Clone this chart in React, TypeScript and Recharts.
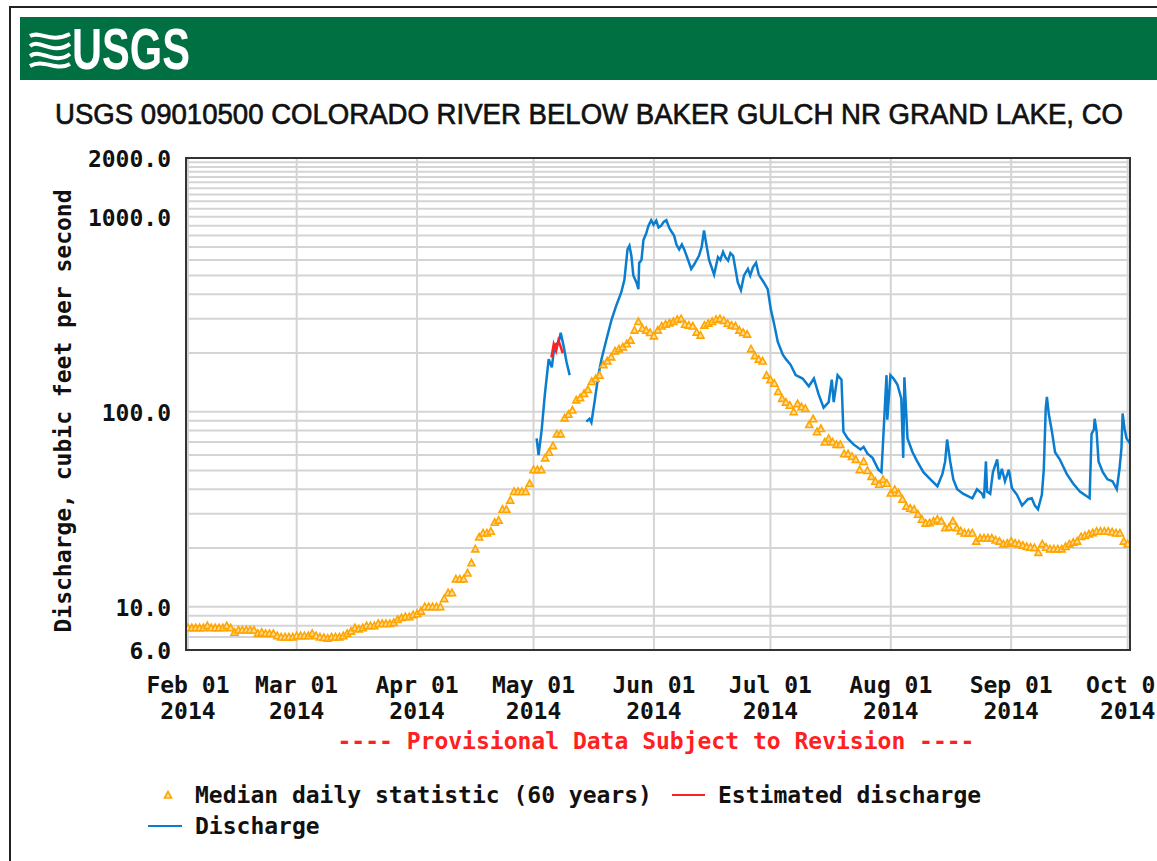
import React from 'react';
import { ComposedChart, Line, Scatter, XAxis, YAxis, CartesianGrid } from 'recharts';

// days counted from Feb 01 2014
const monthDays = [0, 28, 59, 89, 120, 150, 181, 212, 242];
const monthLabels = ['Feb 01', 'Mar 01', 'Apr 01', 'May 01', 'Jun 01', 'Jul 01', 'Aug 01', 'Sep 01', 'Oct 01'];
const yearLabel = '2014';

const yTicks = [
  6, 7, 8, 9, 10, 20, 30, 40, 50, 60, 70, 80, 90, 100, 200, 300, 400, 500, 600, 700, 800, 900,
  1000, 1100, 1200, 1300, 1400, 1500, 1600, 1700, 1800, 1900, 2000,
];
const yLabelled = [6, 10, 100, 1000, 2000];

// median daily statistic, one value per day from Feb 01
const medianDaily = [
  7.8, 7.8, 7.8, 7.8, 7.8, 8.0, 7.8, 7.8, 7.8, 7.8,
  8.0, 7.8, 7.4, 7.6, 7.6, 7.6, 7.6, 7.6, 7.3, 7.4,
  7.3, 7.3, 7.3, 7.1, 7.0, 7.0, 7.0, 7.0, 7.1, 7.1,
  7.1, 7.1, 7.3, 7.1, 7.0, 6.95, 6.9, 7.0, 7.0, 7.0,
  7.1, 7.3, 7.5, 7.8, 7.7, 7.8, 8.0, 8.0, 8.0, 8.2,
  8.2, 8.2, 8.2, 8.3, 8.6, 8.8, 8.9, 8.9, 9.1, 9.2,
  9.5, 10.0, 10.0, 10.0, 10.0, 10.0, 11.0, 11.8, 11.8, 13.9,
  13.9, 13.9, 14.9, 16.8, 19.8, 22.8, 23.9, 23.9, 24.4, 27.1,
  27.8, 31.6, 31.6, 35.2, 39.0, 39.0, 39.0, 39.0, 42.9, 50.5,
  50.5, 50.5, 58, 62, 67, 77, 77, 93, 97, 102,
  115, 118, 124, 130, 143, 148, 154, 174, 182, 191,
  205, 210, 215, 223, 233, 262, 290, 268, 262, 255,
  245, 262, 275, 281, 285, 290, 297, 300, 281, 278,
  275, 256, 247, 278, 284, 290, 297, 300, 294, 284,
  278, 275, 262, 255, 250, 210, 194, 186, 182, 154,
  146, 140, 127, 117, 112, 108, 100, 110, 106, 104,
  86, 92, 79, 82, 70, 73, 70, 68, 68, 61,
  61, 59, 57, 50.5, 55.6, 50, 46.6, 44, 42.5, 45,
  43, 38.3, 40, 38.3, 35.6, 32.8, 32, 31.6, 29.8, 28.1,
  26.8, 27, 27.5, 28.1, 27.5, 25.4, 25.6, 27.5, 25.4, 24.5,
  23.9, 23.9, 23.9, 21.7, 22.5, 22.5, 22.5, 22.5, 22, 21.7,
  21.0, 21.2, 21.7, 21.2, 21.0, 20.7, 20.4, 20.2, 20.1, 19.0,
  21.0, 20.2, 19.8, 19.8, 19.8, 19.8, 20.4, 21.0, 21.4, 21.7,
  22.9, 23.2, 23.6, 24.0, 24.4, 24.4, 24.4, 24.4, 24.2, 23.9,
  23.9, 21.7, 21.0,
];

// discharge (null = gap in record)
const dischargeDays = [
  89.8, 90.3, 91.1, 91.9, 92.9, 93.7, 94.4, 95.5, 96.0, 96.7, 97.5, 98.3,
  100,
  102.6, 103.4, 103.9, 104.7, 105.7, 106.5, 107.8, 109.1, 110.3, 111.6, 112.4, 113.2, 113.7,
  114.2, 114.7, 115.5, 116.0, 116.2, 116.8, 117.3, 118.0, 118.6, 119.3, 119.9, 120.6, 121.2, 121.9, 122.5, 123.2,
  123.9, 124.5, 125.2, 125.8, 126.5, 127.2, 127.8, 128.8, 129.6, 130.4, 131.0, 131.6, 132.3, 132.9, 133.4, 134.2, 135.5, 136.0, 136.5,
  137.1, 137.8, 138.4, 139.1, 139.7, 140.4, 141.6, 142.4, 143.2, 144.2, 144.8, 145.5, 146.3, 147.0, 148.3, 149.3, 150.1,
  150.9, 151.9, 153.2, 154.0, 155.2, 156.5, 158.3, 159.9, 161.2, 162.4, 163.7, 165.0, 165.8,
  166.3, 167.3, 168.3, 168.8, 169.9, 171.4, 173.2, 174.0, 175.0, 176.3, 177.8, 178.6, 179.1,
  179.6, 179.9, 180.1, 180.9, 181.7, 182.7, 183.7, 184.2, 184.5, 185.3, 186.6, 187.8, 189.4,
  191.2, 193.0, 194.3, 195.0, 195.5, 196.3, 197.1, 198.1, 199.6, 202.0, 203.2, 204.5, 205.0,
  205.5, 205.8, 206.6, 207.3, 208.4, 208.9, 209.6, 210.4, 211.4, 212.2, 213.5, 214.8, 216.3,
  217.3, 218.1, 218.9, 219.9, 220.4, 220.9, 221.2, 221.7, 222.5, 223.3, 224.5, 226.3, 227.9,
  229.7, 230.9, 232.2, 232.7, 233.3, 233.5, 234.0, 234.5, 235.6, 236.8, 238.1, 239.2, 239.9,
  240.4, 240.7, 241.2, 241.7, 242.5,
];
const dischargeCfs = [
  73, 60, 81, 122, 186, 169, 219, 228, 254, 219, 180, 154,
  null,
  89, 92, 88, 112, 154, 186, 236, 297, 350, 410, 475, 680, 710,
  630, 500, 460, 425, 580, 600, 760, 820, 900, 960, 910, 955, 880, 900, 940, 960,
  880, 840, 800, 720, 680, 720, 680, 600, 540, 570, 600, 630, 700, 850, 740, 600, 505, 560, 620,
  600, 660, 620, 595, 650, 630, 460, 420, 500, 540, 500, 550, 580, 505, 460, 425, 335,
  285, 228, 196, 186, 174, 154, 148, 135, 148, 123, 105, 112, 146,
  112, 154, 146, 79, 73, 68, 64, 66, 61, 58, 50.5, 49, 76,
  119, 154, 91, 154, 148, 138, 117, 58, 150, 73, 62, 55.6, 49,
  45, 41.5, 48, 55.6, 72, 55.6, 45, 40, 38, 36, 40, 38, 36,
  55.6, 39, 38, 49, 57, 45, 51, 44, 50.5, 40.5, 37.5, 33, 35.6,
  36, 33, 31.6, 37.5, 50.5, 104, 119, 97, 79, 62, 57, 48, 43,
  39, 37.5, 36, 77, 81, 92, 79, 55.6, 49, 45, 44, 40, 51,
  65, 98, 82, 73, 69,
];

// estimated discharge
const estimatedDays = [93.6, 94.2, 94.8, 95.4, 96.0, 96.5];
const estimatedCfs = [190, 222, 205, 232, 215, 200];

const medianData = medianDaily.map((v, i) => ({ day: i, v }));
const dischargeData = dischargeDays.map((d, i) => ({ day: d, v: dischargeCfs[i] }));
const estimatedData = estimatedDays.map((d, i) => ({ day: d, v: estimatedCfs[i] }));

const MONO = '"DejaVu Sans Mono", monospace';
const ORANGE = '#ffa500';
const BLUE = '#0a7dcf';
const RED = '#ff2020';

const Triangle = (props: any) => {
  const { cx, cy } = props;
  if (cx == null || cy == null) return null;
  return (
    <polygon
      points={`${cx - 3.5},${cy + 3} ${cx},${cy - 3.5} ${cx + 3.5},${cy + 3}`}
      fill="#ffdb99"
      stroke={ORANGE}
      strokeWidth={1.6}
    />
  );
};

const XTick = (props: any) => {
  const { x, y, index } = props;
  return (
    <g>
      <text x={x} y={y + 27} textAnchor="middle" dominantBaseline="central" fontFamily={MONO} fontWeight="bold" fontSize={23} fill="#111">
        {monthLabels[index]}
      </text>
      <text x={x} y={y + 53} textAnchor="middle" dominantBaseline="central" fontFamily={MONO} fontWeight="bold" fontSize={23} fill="#111">
        {yearLabel}
      </text>
    </g>
  );
};

const YTick = (props: any) => {
  const { y, payload } = props;
  if (!yLabelled.includes(payload.value)) return null;
  return (
    <text x={171} y={y + 1} textAnchor="end" dominantBaseline="central" fontFamily={MONO} fontWeight="bold" fontSize={23} fill="#111">
      {payload.value.toFixed(1)}
    </text>
  );
};

export default function App() {
  return (
    <div style={{ position: 'absolute', left: 0, top: 0, width: 1157, height: 861, background: '#fff', overflow: 'hidden' }}>
      <ComposedChart
        width={1157}
        height={861}
        margin={{ top: 158, right: 27, bottom: 151, left: 86 }}
        style={{ position: 'absolute', left: 0, top: 0 }}
      >
        <CartesianGrid stroke="#d4d4d4" strokeWidth={2} />
        <XAxis
          type="number"
          dataKey="day"
          domain={[-0.5, 242.6]}
          allowDataOverflow
          ticks={monthDays}
          interval={0}
          tickLine={false}
          axisLine={false}
          height={60}
          tick={<XTick />}
        />
        <YAxis
          type="number"
          scale="log"
          domain={[6, 2000]}
          allowDataOverflow
          ticks={yTicks}
          interval={0}
          tickLine={false}
          axisLine={false}
          width={100}
          tick={<YTick />}
        />
        <Scatter data={medianData} dataKey="v" shape={<Triangle />} isAnimationActive={false} />
        <Line
          data={dischargeData}
          dataKey="v"
          type="linear"
          stroke={BLUE}
          strokeWidth={2.5}
          dot={false}
          connectNulls={false}
          isAnimationActive={false}
        />
        <Line
          data={estimatedData}
          dataKey="v"
          type="linear"
          stroke={RED}
          strokeWidth={2.5}
          dot={false}
          isAnimationActive={false}
        />
      </ComposedChart>

      <svg width={1157} height={861} style={{ position: 'absolute', left: 0, top: 0, pointerEvents: 'none' }}>
        {/* page frame */}
        <rect x={10} y={7} width={1160} height={870} fill="none" stroke="#222" strokeWidth={2} />
        {/* header bar */}
        <rect x={20} y={17} width={1150} height={63} fill="#006f41" />
        <g stroke="#fff" strokeWidth={4} fill="none">
          <path d="M30 36 C40 30, 50 44, 70 34" />
          <path d="M30 46 C40 38, 52 56, 70 44" />
          <path d="M30 56 C42 48, 54 66, 70 54" />
          <path d="M30 66 C44 58, 56 72, 70 64" />
        </g>
        <text x={72} y={69} fontFamily='"Liberation Sans Narrow", "Liberation Sans", Arial, sans-serif' fontWeight="bold" fontSize={58} fill="#fff" textLength={118} lengthAdjust="spacingAndGlyphs">
          USGS
        </text>
        {/* title */}
        <text x={55} y={124} fontFamily='"Liberation Sans", Arial, sans-serif' fontSize={30} fill="#111" stroke="#111" strokeWidth={0.7} textLength={1068} lengthAdjust="spacingAndGlyphs">
          USGS 09010500 COLORADO RIVER BELOW BAKER GULCH NR GRAND LAKE, CO
        </text>
        {/* plot frame */}
        <rect x={186} y={158} width={944} height={492} fill="none" stroke="#333" strokeWidth={2} />
        {/* y axis title */}
        <text
          transform="translate(63,411) rotate(-90)"
          textAnchor="middle"
          dominantBaseline="central"
          fontFamily={MONO}
          fontWeight="bold"
          fontSize={23}
          fill="#111"
        >
          Discharge, cubic feet per second
        </text>
        {/* provisional note */}
        <text x={656} y={741} textAnchor="middle" dominantBaseline="central" fontFamily={MONO} fontWeight="bold" fontSize={23} fill={RED}>
          ---- Provisional Data Subject to Revision ----
        </text>
        {/* legend */}
        <polygon points="164.5,798 168,791.5 171.5,798" fill="#ffdb99" stroke={ORANGE} strokeWidth={1.6} />
        <text x={195} y={795} dominantBaseline="central" fontFamily={MONO} fontWeight="bold" fontSize={23} fill="#111">
          Median daily statistic (60 years)
        </text>
        <line x1={672} y1={795} x2={705} y2={795} stroke={RED} strokeWidth={2} />
        <text x={718} y={795} dominantBaseline="central" fontFamily={MONO} fontWeight="bold" fontSize={23} fill="#111">
          Estimated discharge
        </text>
        <line x1={148} y1={826} x2={182} y2={826} stroke={BLUE} strokeWidth={2} />
        <text x={195} y={826} dominantBaseline="central" fontFamily={MONO} fontWeight="bold" fontSize={23} fill="#111">
          Discharge
        </text>
      </svg>
    </div>
  );
}
